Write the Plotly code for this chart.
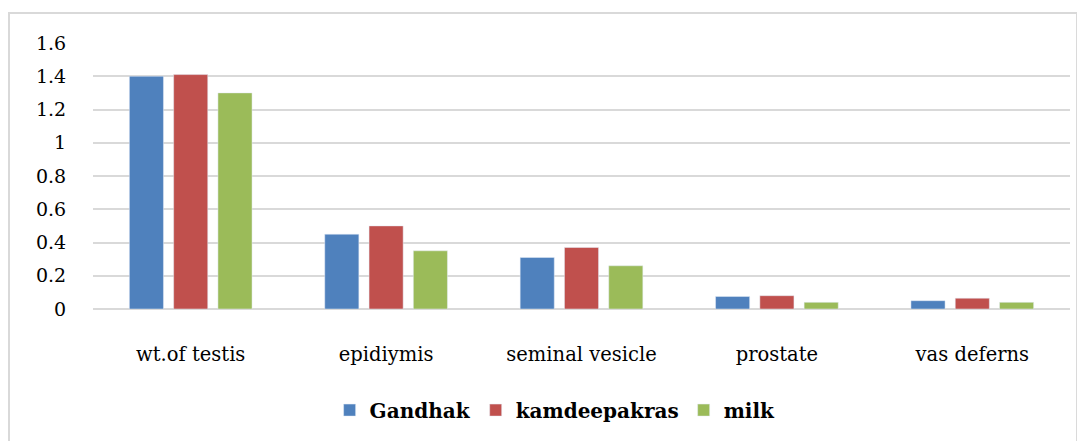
import plotly.graph_objects as go

categories = ["wt.of testis", "epidiymis", "seminal vesicle", "prostate", "vas deferns"]
gandhak = [1.40, 0.45, 0.31, 0.075, 0.05]
kamdeepakras = [1.41, 0.50, 0.37, 0.08, 0.065]
milk = [1.30, 0.35, 0.26, 0.04, 0.04]
y_ticks = [0, 0.2, 0.4, 0.6, 0.8, 1, 1.2, 1.4, 1.6]
y_tick_labels = ["0", "0.2", "0.4", "0.6", "0.8", "1", "1.2", "1.4", "1.6"]

font_family = "DejaVu Serif"

fig = go.Figure()
fig.add_trace(go.Bar(name="Gandhak", x=categories, y=gandhak, marker_color="#4F81BD"))
fig.add_trace(go.Bar(name="kamdeepakras", x=categories, y=kamdeepakras, marker_color="#C0504D"))
fig.add_trace(go.Bar(name="milk", x=categories, y=milk, marker_color="#9BBB59"))

fig.update_layout(
    width=1077, height=433,
    margin=dict(l=85, r=15, t=35, b=132),
    paper_bgcolor="white", plot_bgcolor="white",
    barmode="group", bargap=0.32, bargroupgap=0.23,
    font=dict(family=font_family, size=19, color="#000000"),
    showlegend=True,
    legend=dict(orientation="h", x=0.473, xanchor="center", y=-0.38, yanchor="middle",
                font=dict(family=font_family, size=20, color="#000000", weight="bold"),
                itemwidth=30, traceorder="normal"),
    shapes=[dict(type="rect", xref="paper", yref="paper",
                 x0=-0.086, x1=1.0072, y0=-0.52, y1=1.113,
                 line=dict(color="#D9D9D9", width=2), fillcolor="rgba(0,0,0,0)", layer="below")],
)
fig.update_xaxes(showgrid=False, showline=False, ticks="outside", ticklen=28,
                 tickcolor="rgba(0,0,0,0)", tickfont=dict(family=font_family, size=19.5))
fig.update_yaxes(range=[0, 1.6], tickvals=y_ticks, ticktext=y_tick_labels,
                 showgrid=True, gridcolor="#D9D9D9", gridwidth=1.5,
                 zeroline=True, zerolinecolor="#D9D9D9", zerolinewidth=1.5,
                 showline=False, ticks="outside", ticklen=22, tickcolor="rgba(0,0,0,0)",
                 tickfont=dict(family=font_family, size=19))

fig.write_html("out.html")
